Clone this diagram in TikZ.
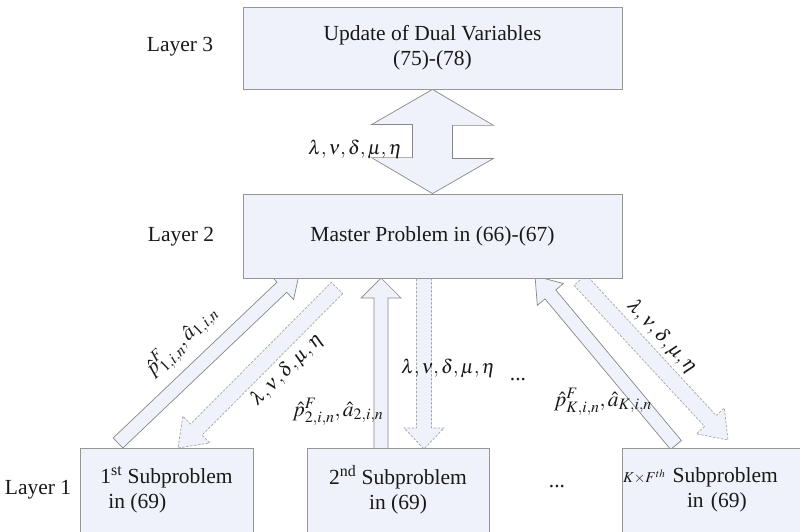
\documentclass[tikz,border=0pt]{standalone}
\usepackage{mathptmx}
\usepackage[no-math]{fontspec}
\setmainfont{Liberation Serif}
\usetikzlibrary{calc,backgrounds}

\definecolor{boxfill}{RGB}{239,242,250}
\definecolor{boxline}{RGB}{150,150,150}
\definecolor{txt}{RGB}{25,25,25}

\tikzset{
  layerbox/.style={draw=boxline, fill=boxfill, line width=0.8pt, inner sep=0pt,
    font=\fontsize{21.5}{25}\selectfont, text=txt},
  arrowbox/.style={draw=boxline!90!black, fill=boxfill, line width=0.7pt},
  dualarrow/.style={dash pattern=on 2.5pt off 1.5pt, draw=boxline!85},
  lab/.style={font=\fontsize{21.5}{25}\selectfont, text=txt, inner sep=0pt},
  mlab/.style={lab, font=\fontsize{19.5}{23}\selectfont},
}

%% block arrow: [style]{tail}{tip}{shaft half width}{head half width}{head length}
\newcommand{\blockarrow}[6][]{%
  \coordinate (headbase) at ($(#3)!#6pt!(#2)$);
  \draw[arrowbox,#1] ($(#2)!#4pt!90:(#3)$) -- ($(headbase)!#4pt!-90:(#2)$)
    -- ($(headbase)!#5pt!-90:(#2)$) -- (#3) -- ($(headbase)!#5pt!90:(#2)$)
    -- ($(headbase)!#4pt!90:(#2)$) -- ($(#2)!#4pt!-90:(#3)$) -- cycle;
}

\begin{document}
\begin{tikzpicture}[x=1pt, y=-1pt]
  \clip (0,0) rectangle (800,532);

  %% layers
  \node[lab] (lay3) at (180,47) {Layer 3};
  \node[lab] (lay2) at (181,237) {Layer 2};
  \node[lab] (lay1) at (38,490) {Layer 1};

  %% boxes
  \node[layerbox, minimum width=379pt, minimum height=82pt, align=center] (dual) at (432.5,48)
    {Update of Dual Variables\\(75)-(78)};
  \node[layerbox, minimum width=379pt, minimum height=84pt] (master) at (432.5,236)
    {Master Problem in (66)-(67)};
  \node[layerbox, minimum width=173pt, minimum height=84pt, align=left] (sub1) at (166.5,490)
    {1\textsuperscript{st} Subproblem\\\hspace*{8pt}in (69)};
  \node[layerbox, minimum width=182pt, minimum height=84pt, align=center] (sub2) at (398,490)
    {2\textsuperscript{nd} Subproblem\\in (69)};
  \node[layerbox, minimum width=182pt, minimum height=84pt, text width=180pt, align=left] (sub3) at (713,490)
    {{\fontsize{15}{15}\selectfont$K{\times}F^{th}$} Subproblem\\\hspace*{64pt}in (69)};

  %% end points of the arrows
  \coordinate (t1) at (118,443);  \coordinate (h1) at (300,270);
  \coordinate (t2) at (337,288);  \coordinate (h2) at (178,448);
  \coordinate (t3) at (381,449);  \coordinate (h3) at (381,278);
  \coordinate (t4) at (424,278);  \coordinate (h4) at (424,449);
  \coordinate (t5) at (676,445);  \coordinate (h5) at (535,276);
  \coordinate (t6) at (580,280);  \coordinate (h6) at (728,440);

  \begin{pgfonlayer}{background}
    %% layer 3 <-> layer 2
    \draw[arrowbox] (dual.south) -- ++(61,36) -- ++(-41,0) -- ++(0,33) -- ++(41,0)
      -- (master.north) -- ++(-61,-36) -- ++(41,0) -- ++(0,-33) -- ++(-41,0) -- cycle;
    %% layer 1 <-> layer 2
    \blockarrow{t1}{h1}{7}{17}{25}
    \blockarrow[dualarrow]{t2}{h2}{8}{19}{26}
    \blockarrow{t3}{h3}{7}{20}{20}
    \blockarrow[dualarrow]{t4}{h4}{7.5}{20}{21}
    \blockarrow{t5}{h5}{7}{17}{24}
    \blockarrow[dualarrow]{t6}{h6}{8}{19}{26}
  \end{pgfonlayer}

  %% labels
  \node[mlab] (mult3) at (355,149) {$\lambda,\nu,\delta,\mu,\eta$};
  \node[lab, rotate=44] (pa1) at (182,342) {$\hat{p}^F_{1,i,n},\hat{a}_{1,i,n}$};
  \node[mlab, rotate=45] (mult1) at (287,370) {$\lambda,\nu,\delta,\mu,\eta$};
  \node[lab] (pa2) at (338,412) {$\hat{p}^F_{2,i,n},\hat{a}_{2,i,n}$};
  \node[mlab] (mult2) at (448,368) {$\lambda,\nu,\delta,\mu,\eta$};
  \node[lab] (dots2) at (518,380) {...};
  \node[lab] (paK) at (603,402) {$\hat{p}^F_{K,i,n},\hat{a}_{K,i,n}$};
  \node[mlab, rotate=-47] (multK) at (662,337) {$\lambda,\nu,\delta,\mu,\eta$};
  \node[lab] (dots1) at (557,487) {...};
\end{tikzpicture}
\end{document}
